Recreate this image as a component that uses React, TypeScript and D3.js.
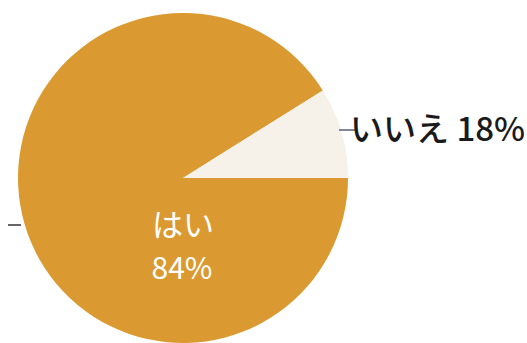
import React from "react";
import * as d3 from "d3";

const categories = ["はい", "いいえ"];
// slice shares as drawn in the picture (angle of the white wedge ≈ 32°)
const shares = [91.1, 8.9];
const percentLabels = ["84%", "18%"];
const colors = ["#db9a31", "#f6f2e9"];

export default function App() {
  const width = 527;
  const height = 343;
  const cx = 183;
  const cy = 178;
  const r = 165;

  const pie = d3
    .pie<number>()
    .sort(null)
    .value((d) => d)
    .startAngle(Math.PI / 2)
    .endAngle(Math.PI / 2 + 2 * Math.PI);
  const arcs = pie(shares);
  const arc = d3.arc<d3.PieArcDatum<number>>().innerRadius(0).outerRadius(r);

  const font = "'Noto Sans CJK JP', 'Noto Sans', sans-serif";

  return (
    <svg
      width={width}
      height={height}
      style={{ position: "absolute", left: 0, top: 0, background: "#ffffff" }}
    >
      <g transform={`translate(${cx},${cy})`}>
        {arcs.map((a, i) => (
          <path key={categories[i]} d={arc(a) ?? ""} fill={colors[i]} />
        ))}
      </g>
      {/* small leader ticks */}
      <line x1={339} y1={130} x2={356} y2={130} stroke="#556070" strokeWidth={1.5} />
      <line x1={8} y1={225} x2={21} y2={225} stroke="#333" strokeWidth={1.5} />
      <text
        x={183}
        y={236}
        textAnchor="middle"
        fill="#ffffff"
        fontFamily={font}
        fontSize={31}
        fontWeight={400}
      >
        {categories[0]}
      </text>
      <text
        x={182}
        y={279}
        textAnchor="middle"
        fill="#ffffff"
        fontFamily={font}
        fontSize={30}
        fontWeight={400}
      >
        {percentLabels[0]}
      </text>
      <text
        x={350}
        y={141}
        textAnchor="start"
        fill="#1a1a1a"
        fontFamily={font}
        fontSize={33}
        fontWeight={500}
      >
        {categories[1]} {percentLabels[1]}
      </text>
    </svg>
  );
}
